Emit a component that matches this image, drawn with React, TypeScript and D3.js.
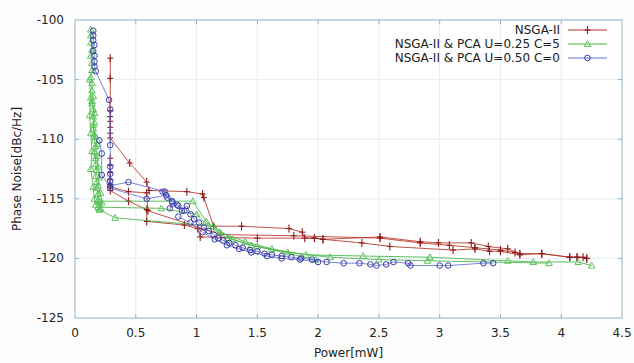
import React from "react";
import * as d3 from "d3";

type Pt = [number, number];

const xTicks = [0, 0.5, 1, 1.5, 2, 2.5, 3, 3.5, 4, 4.5];
const yTicks = [-100, -105, -110, -115, -120, -125];
const seriesNames = ["NSGA-II", "NSGA-II & PCA U=0.25 C=5", "NSGA-II & PCA U=0.50 C=0"];

// NSGA-II (red, + markers)
const nsgaLines: Pt[][] = [
  [
    [0.29, -103.2], [0.29, -104.9], [0.29, -107.6], [0.29, -108.1], [0.29, -108.5], [0.29, -109.0],
    [0.29, -109.5], [0.29, -109.9], [0.45, -112.0], [0.59, -113.6], [0.61, -114.3], [0.92, -114.4],
    [1.05, -114.6], [1.06, -114.9], [1.14, -117.3], [1.37, -117.3], [1.76, -117.5], [1.87, -117.8],
    [1.89, -118.3], [1.97, -118.3], [2.04, -118.4], [2.51, -118.2], [2.84, -118.6], [2.99, -118.7],
    [3.26, -118.7], [3.40, -119.0], [3.56, -119.2], [3.66, -119.6], [3.84, -119.6], [4.07, -119.9],
    [4.13, -119.9], [4.18, -119.9], [4.21, -120.0],
  ],
  [
    [0.29, -111.6], [0.29, -112.2], [0.29, -112.8], [0.29, -113.4], [0.29, -113.8], [0.29, -114.3],
    [0.44, -115.2], [0.59, -115.9], [0.59, -116.9], [0.9, -117.2], [1.01, -117.5], [1.03, -118.2],
    [1.5, -118.3], [1.97, -118.3], [2.04, -118.4], [2.36, -118.7], [2.59, -119.0], [3.11, -119.3],
    [3.29, -119.2], [3.41, -119.4], [3.50, -119.4], [3.66, -119.7], [3.84, -119.6], [4.07, -119.9],
    [4.13, -119.9], [4.21, -120.0],
  ],
  [
    [0.29, -114.0], [0.44, -114.4], [0.59, -114.5], [0.6, -116.0], [1.2, -118.0], [1.8, -118.1],
    [2.51, -118.3], [2.84, -118.7], [3.08, -118.9], [3.29, -119.1], [3.5, -119.3], [3.62, -119.5],
  ],
];

// NSGA-II & PCA U=0.25 C=5 (green, triangles)
const pca25Lines: Pt[][] = [
  [
    [0.13, -100.8], [0.13, -101.3], [0.13, -101.9], [0.14, -102.5], [0.13, -103.0], [0.14, -103.6],
    [0.14, -104.2], [0.13, -104.8], [0.14, -105.3], [0.14, -105.9], [0.15, -106.4], [0.14, -107.0],
    [0.15, -107.5], [0.15, -108.1], [0.16, -108.6], [0.15, -109.1], [0.16, -109.6], [0.16, -110.1],
    [0.17, -110.6], [0.16, -111.1], [0.17, -111.6], [0.17, -112.1], [0.18, -112.6], [0.17, -113.1],
    [0.18, -113.6], [0.18, -114.1], [0.19, -114.6], [0.19, -115.1], [0.2, -115.5], [0.2, -115.9],
  ],
  [
    [0.12, -105.0], [0.13, -106.5], [0.12, -108.0], [0.13, -109.5], [0.14, -111.0], [0.13, -112.5],
    [0.15, -114.0], [0.16, -115.0], [0.17, -115.5], [0.2, -115.2], [0.97, -115.2], [1.08, -116.9],
    [1.19, -117.8], [1.4, -118.6], [1.62, -119.2], [1.9, -119.7], [2.37, -119.8], [2.92, -119.9],
    [3.56, -120.2], [3.77, -120.3], [4.14, -120.3], [4.25, -120.6],
  ],
  [
    [0.19, -115.7], [0.71, -115.8], [1.0, -116.3], [1.1, -117.3], [1.25, -118.3], [1.5, -119.0],
    [1.75, -119.5], [2.1, -119.9], [2.5, -120.1], [2.9, -120.2], [3.9, -120.4],
  ],
  [
    [0.2, -115.9], [0.33, -116.6], [1.14, -117.3], [1.3, -118.4], [1.45, -118.9], [1.98, -120.1],
  ],
  [
    [0.14, -106.8], [0.16, -107.8], [0.15, -108.8], [0.17, -109.8], [0.18, -110.4], [0.18, -111.4],
    [0.19, -112.3], [0.2, -113.2], [0.19, -113.9], [0.21, -114.5], [0.22, -115.3], [0.21, -115.8],
  ],
];

// NSGA-II & PCA U=0.50 C=0 (blue, circles)
const pca50Lines: Pt[][] = [
  [
    [0.15, -100.9], [0.15, -101.3], [0.15, -101.7], [0.16, -102.1], [0.15, -102.6], [0.16, -103.0],
    [0.16, -103.5], [0.16, -103.9], [0.17, -104.3], [0.28, -106.7], [0.29, -107.5], [0.29, -110.5],
    [0.29, -112.3], [0.29, -112.9], [0.29, -113.5], [0.29, -113.9], [0.44, -113.6], [0.74, -114.4],
  ],
  [
    [0.2, -110.1], [0.22, -111.2], [0.22, -113.0], [0.29, -114.1], [0.59, -115.0], [0.75, -114.7],
    [0.8, -115.2], [0.85, -115.6], [0.9, -116.0],
  ],
  [
    [0.72, -114.4], [0.76, -114.9], [0.80, -115.3], [0.78, -115.8], [0.84, -115.5], [0.88, -116.0],
    [0.92, -115.6], [0.95, -116.3], [0.98, -116.7], [1.02, -117.0], [1.06, -117.4], [1.10, -117.7],
    [1.14, -118.0], [1.18, -118.3], [1.22, -118.5], [1.27, -118.7], [1.32, -118.9], [1.38, -119.1],
    [1.44, -119.3], [1.50, -119.4], [1.56, -119.6], [1.62, -119.7], [1.70, -119.8], [1.78, -119.9],
    [1.86, -120.0], [1.95, -120.1], [2.07, -120.3], [2.21, -120.4], [2.34, -120.4], [2.43, -120.5],
    [2.48, -120.6], [2.56, -120.5], [2.62, -120.3], [2.74, -120.4], [2.76, -120.6], [3.0, -120.6],
    [3.07, -120.6], [3.36, -120.4], [3.44, -120.4],
  ],
  [
    [0.85, -116.5], [0.95, -117.0], [1.05, -117.8], [1.15, -118.4], [1.25, -118.9], [1.35, -119.2],
    [1.45, -119.5], [1.58, -119.8], [1.7, -120.0], [1.85, -120.1], [2.0, -120.3],
  ],
];

const W = 634;
const H = 363;
const L = 75, R = 622, T = 20, B = 318;
const FONT = "DejaVu Sans, sans-serif";
const BORDER = "#8fb6c8";

const colors = {
  red: { line: "#b83228", mark: "#8e1b1b" },
  green: { line: "#45b445", mark: "#5cc25c" },
  blue: { line: "#6070d8", mark: "#3a3aa8" },
};

function Marker({ kind, x, y, color }: { kind: string; x: number; y: number; color: string }) {
  if (kind === "plus") {
    return (
      <g stroke={color} strokeWidth={1.1}>
        <line x1={x} y1={y - 4} x2={x} y2={y + 4} />
        <line x1={x - 3} y1={y} x2={x + 3} y2={y} />
      </g>
    );
  }
  if (kind === "tri") {
    const s = 3.3;
    return (
      <path
        d={`M${x},${y - s}L${x + s},${y + s * 0.75}L${x - s},${y + s * 0.75}Z`}
        fill="none"
        stroke={color}
        strokeWidth={1}
      />
    );
  }
  return <circle cx={x} cy={y} r={2.8} fill="none" stroke={color} strokeWidth={1} />;
}

export default function App() {
  const x = d3.scaleLinear().domain([0, 4.5]).range([L, R]);
  const y = d3.scaleLinear().domain([-125, -100]).range([B, T]);
  const line = d3
    .line<Pt>()
    .x((d) => x(d[0]))
    .y((d) => y(d[1]));

  const series = [
    { lines: nsgaLines, c: colors.red, kind: "plus" },
    { lines: pca25Lines, c: colors.green, kind: "tri" },
    { lines: pca50Lines, c: colors.blue, kind: "circle" },
  ];

  return (
    <svg width={W} height={H} style={{ position: "absolute", left: 0, top: 0, background: "#fff" }}>
      <rect x={0} y={0} width={W} height={H} fill="#fdfdfd" />
      <rect x={L} y={T} width={R - L} height={B - T} fill="#fff" />
      {/* grid */}
      {xTicks.slice(1, -1).map((t) => (
        <line key={"gx" + t} x1={x(t)} x2={x(t)} y1={T} y2={B} stroke="#e4eef3" strokeWidth={1} />
      ))}
      {yTicks.slice(1, -1).map((t) => (
        <line key={"gy" + t} x1={L} x2={R} y1={y(t)} y2={y(t)} stroke="#e4eef3" strokeWidth={1} />
      ))}
      {/* series */}
      {series.map((s, si) => (
        <g key={si}>
          {s.lines.map((pts, li) => (
            <path key={li} d={line(pts) || ""} fill="none" stroke={s.c.line} strokeWidth={1} strokeOpacity={0.85} />
          ))}
          {s.lines.map((pts, li) =>
            pts.map((p, pi) => <Marker key={li + "-" + pi} kind={s.kind} x={x(p[0])} y={y(p[1])} color={s.c.mark} />)
          )}
        </g>
      ))}
      {/* border and ticks */}
      <rect x={L} y={T} width={R - L} height={B - T} fill="none" stroke={BORDER} strokeWidth={1} />
      {xTicks.slice(1, -1).map((t) => (
        <g key={"tx" + t} stroke={BORDER}>
          <line x1={x(t)} x2={x(t)} y1={B} y2={B - 4} />
          <line x1={x(t)} x2={x(t)} y1={T} y2={T + 4} />
        </g>
      ))}
      {yTicks.slice(1, -1).map((t) => (
        <g key={"ty" + t} stroke={BORDER}>
          <line x1={L} x2={L + 4} y1={y(t)} y2={y(t)} />
          <line x1={R} x2={R - 4} y1={y(t)} y2={y(t)} />
        </g>
      ))}
      {/* tick labels */}
      {xTicks.map((t) => (
        <text key={"lx" + t} x={x(t)} y={337} textAnchor="middle" fontFamily={FONT} fontSize={12} fill="#222">
          {String(t)}
        </text>
      ))}
      {yTicks.map((t) => (
        <text key={"ly" + t} x={64} y={y(t) + 4} textAnchor="end" fontFamily={FONT} fontSize={12} fill="#222">
          {String(t)}
        </text>
      ))}
      <text x={(L + R) / 2} y={357} textAnchor="middle" fontFamily={FONT} fontSize={12} fill="#222">
        Power[mW]
      </text>
      <text
        transform={`translate(21,${(T + B) / 2}) rotate(-90)`}
        textAnchor="middle"
        fontFamily={FONT}
        fontSize={12}
        fill="#222"
      >
        Phase Noise[dBc/Hz]
      </text>
      {/* legend */}
      {series.map((s, i) => {
        const ly = 30 + i * 14;
        return (
          <g key={"lg" + i}>
            <text x={560} y={ly + 4.3} textAnchor="end" fontFamily={FONT} fontSize={12} fill="#222">
              {seriesNames[i]}
            </text>
            <line x1={568} x2={607} y1={ly} y2={ly} stroke={s.c.line} strokeWidth={1} />
            <Marker kind={s.kind} x={587.5} y={ly} color={s.c.mark} />
          </g>
        );
      })}
    </svg>
  );
}
